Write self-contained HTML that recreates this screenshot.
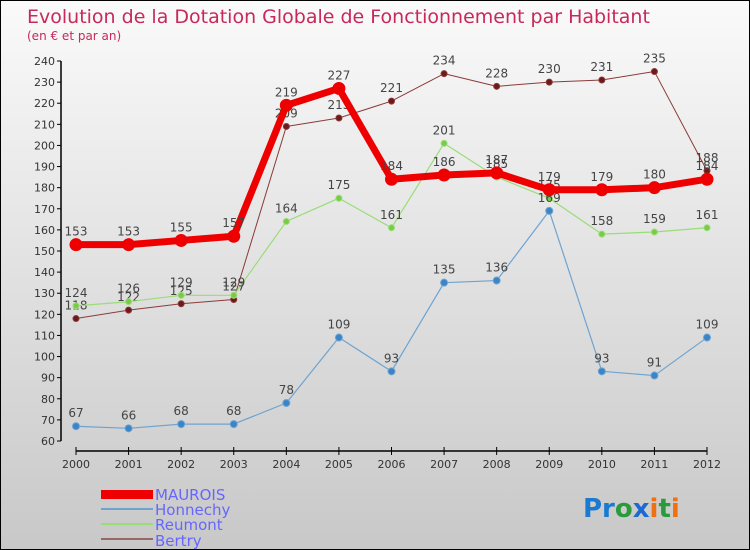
<!DOCTYPE html>
<html><head><meta charset="utf-8"><style>
body{margin:0}
#c{width:748px;height:548px;border:1px solid #000;background:linear-gradient(#fafafa,#c8c8c8);position:relative;font-family:"DejaVu Sans","Liberation Sans",sans-serif}
</style></head><body>
<div id="c">
<svg width="748" height="548" id="s" style="position:absolute;left:0;top:0">
<text x="26" y="22" font-size="19" fill="#c8285a">Evolution de la Dotation Globale de Fonctionnement par Habitant</text>
<text x="26" y="39" font-size="12" fill="#c8285a">(en € et par an)</text>
<g id="ax"></g><g id="pl"></g>
<g>
<rect x="100" y="489" width="52" height="9" fill="#e00"/>
<text x="154" y="499" font-size="15" fill="#66f">MAUROIS</text>
<line x1="100" y1="508" x2="152" y2="508" stroke="#6fa3cf" stroke-width="2"/>
<text x="154" y="514" font-size="15" fill="#66f">Honnechy</text>
<line x1="100" y1="523" x2="152" y2="523" stroke="#99dd77" stroke-width="2"/>
<text x="154" y="529" font-size="15" fill="#66f">Reumont</text>
<line x1="100" y1="538" x2="152" y2="538" stroke="#996666" stroke-width="2"/>
<text x="154" y="545" font-size="15" fill="#66f">Bertry</text>
</g>
<text x="582" y="516" font-size="26" font-weight="bold"><tspan fill="#1a7ad0">Pr</tspan><tspan fill="#2a9a3a">o</tspan><tspan fill="#1a6ad0">x</tspan><tspan fill="#f07010">i</tspan><tspan fill="#2a9a3a">t</tspan><tspan fill="#f07010">i</tspan></text>
</svg></div>
<script>
const years=["2000","2001","2002","2003","2004","2005","2006","2007","2008","2009","2010","2011","2012"];
const maurois=[153,153,155,157,219,227,184,186,187,179,179,180,184];
const honnechy=[67,66,68,68,78,109,93,135,136,169,93,91,109];
const reumont=[124,126,129,129,164,175,161,201,185,175,158,159,161];
const bertry=[118,122,125,127,209,213,221,234,228,230,231,235,188];
const yTicks=[60,70,80,90,100,110,120,130,140,150,160,170,180,190,200,210,220,230,240];
const NS="http://www.w3.org/2000/svg";
const x=i=>75+i*(706-75)/(years.length-1);
const y=v=>440-(v-60)*380/180;
function mk(t,a,p){const e=document.createElementNS(NS,t);for(const k in a)e.setAttribute(k,a[k]);p.appendChild(e);return e;}
const ax=document.getElementById('ax');
let e=mk('line',{x1:60,y1:y(240),x2:60,y2:y(60),stroke:'#000','stroke-width':1.5},ax);


yTicks.forEach(v=>{mk('line',{x1:56,x2:60,y1:y(v),y2:y(v),stroke:'#000'},ax);
const t=mk('text',{x:54,y:y(v)+4,'font-size':11,fill:'#333','text-anchor':'end'},ax);t.textContent=v;

});
e=mk('line',{x1:75,y1:450,x2:706,y2:450,stroke:'#000','stroke-width':1.5},ax);


years.forEach((yr,i)=>{mk('line',{x1:x(i),x2:x(i),y1:446,y2:454,stroke:'#000'},ax);
const t=mk('text',{x:x(i),y:467,'font-size':11,fill:'#333','text-anchor':'middle'},ax);t.textContent=yr;

});
const pl=document.getElementById('pl');
function series(name,d,col,fill,w,r){const g=mk('g',{},pl);


mk('polyline',{points:d.map((v,i)=>x(i)+','+y(v)).join(' '),fill:'none',stroke:col,'stroke-width':w,'stroke-linejoin':'round'},g);
d.forEach((v,i)=>{const c=mk('circle',{cx:x(i),cy:y(v),r:r,fill:fill,stroke:col,'stroke-width':1},g);


const t=mk('text',{x:x(i),y:y(v)-9,'font-size':12,fill:'#444','text-anchor':'middle'},g);t.textContent=v;

});}
series('bertry',bertry,'#8b3a3a','#6b1a1a',1,3);
series('reumont',reumont,'#99dd77','#77cc44',1.2,3);
series('honnechy',honnechy,'#6fa3cf','#3a85c8',1.2,3.5);
series('maurois',maurois,'#e00','#e00',7,6);
</script></body></html>
